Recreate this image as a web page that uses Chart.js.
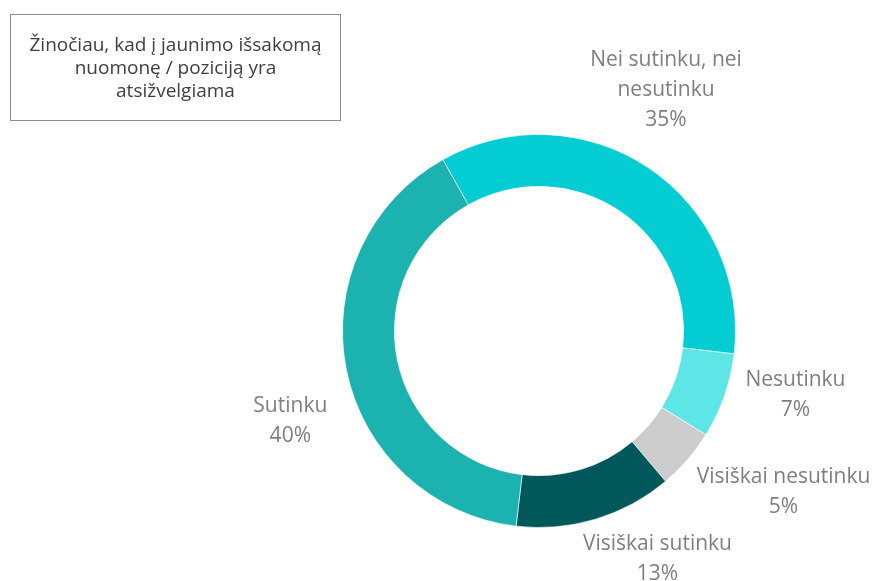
<!DOCTYPE html>
<html lang="lt">
<head>
<meta charset="utf-8">
<title>Žinočiau, kad į jaunimo išsakomą nuomonę / poziciją yra atsižvelgiama</title>
<script src="https://cdn.jsdelivr.net/npm/chart.js@4"></script>
<style>
  html, body { margin: 0; padding: 0; background: #fff; }
  #wrap { position: relative; width: 877px; height: 581px; }
  #box {
    position: absolute; left: 10px; top: 14px; width: 329px; height: 105px;
    border: 1px solid #8c8c8c;
    display: flex; align-items: center; justify-content: center; text-align: center;
    font-family: "Open Sans", sans-serif; font-size: 19px; line-height: 23px; color: #404040;
  }
</style>
</head>
<body>
<div id="wrap">
  <canvas id="apklausa" width="877" height="581"></canvas>
  <div id="box">Žinočiau, kad į jaunimo išsakomą<br>nuomonę / poziciją yra<br>atsižvelgiama</div>
</div>
<script>
const categories = ["Nei sutinku, nei nesutinku", "Nesutinku", "Visiškai nesutinku", "Visiškai sutinku", "Sutinku"]
const labelLines = [["Nei sutinku, nei", "nesutinku"], ["Nesutinku"], ["Visiškai nesutinku"], ["Visiškai sutinku"], ["Sutinku"]]
const shares = [35, 7, 5, 13, 40]
const sliceColors = ["#03cdd2", "#5ee6e6", "#cccccc", "#00585b", "#1cb2af"]

// labels sit next to the outer edge of each slice, nudged by hand
const sliceLabels = {
  id: "sliceLabels",
  afterDatasetsDraw(chart, args, opts) {
    const ctx = chart.ctx
    const meta = chart.getDatasetMeta(0)
    ctx.save()
    ctx.font = opts.font
    ctx.fillStyle = opts.color
    ctx.textAlign = "center"
    ctx.textBaseline = "middle"
    meta.data.forEach((arc, i) => {
      const p = arc.getProps(["x", "y", "startAngle", "endAngle", "outerRadius"], true)
      const mid = (p.startAngle + p.endAngle) / 2
      const off = opts.offsets[i]
      const lx = p.x + Math.cos(mid) * p.outerRadius + off[0]
      const ly = p.y + Math.sin(mid) * p.outerRadius + off[1]
      const lines = [...labelLines[i], shares[i] + "%"]
      const top = ly - (lines.length - 1) * opts.lineHeight / 2
      lines.forEach((t, j) => ctx.fillText(t, lx, top + j * opts.lineHeight))
    })
    ctx.restore()
  }
}

new Chart(document.getElementById("apklausa"), {
  type: "doughnut",
  data: {
    labels: categories,
    datasets: [{
      data: shares,
      backgroundColor: sliceColors,
      borderColor: "rgba(255,255,255,0.6)",
      borderWidth: 1
    }]
  },
  options: {
    responsive: false,
    animation: false,
    rotation: -29.3,
    cutout: "73.6%",
    layout: { padding: { left: 342, right: 141, top: 134, bottom: 53 } },
    plugins: {
      legend: { display: false },
      tooltip: { enabled: false },
      sliceLabels: {
        font: "21px 'Open Sans', sans-serif",
        color: "#7f7f7f",
        lineHeight: 30,
        offsets: [[18, -78], [71, -1], [96, 32], [62, 40], [-56, 52]]
      }
    }
  },
  plugins: [sliceLabels]
})
</script>
</body>
</html>
